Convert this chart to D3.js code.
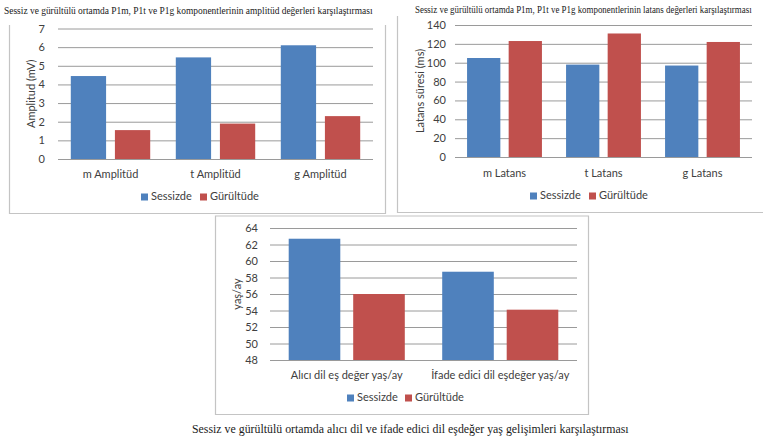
<!DOCTYPE html>
<html>
<head>
<meta charset="utf-8">
<script src="https://cdn.jsdelivr.net/npm/d3@7"></script>
<style>
  html, body { margin: 0; padding: 0; background: #ffffff; }
  svg { display: block; }
  .tick-label, .cat-label, .legend-label, .axis-title { font-family: Lato, "Open Sans", sans-serif; fill: #404040; }
  .caption { font-family: "Liberation Serif", "DejaVu Serif", serif; fill: #1a1a1a; }
</style>
</head>
<body>
<svg id="chart" width="763" height="442"></svg>
<script>
// Series shared by all three panels
const series = ["Sessizde", "Gürültüde"];
const seriesColors = ["#4f81bd", "#c0504d"];

// Panel 1: P1 amplitude (mV)
const ampCategories = ["m Amplitüd", "t Amplitüd", "g Amplitüd"];
const ampSessizde = [4.45, 5.45, 6.1];
const ampGurultude = [1.55, 1.9, 2.3];
const ampTicks = [0, 1, 2, 3, 4, 5, 6, 7];

// Panel 2: P1 latency (ms)
const latCategories = ["m Latans", "t Latans", "g Latans"];
const latSessizde = [105, 98, 97];
const latGurultude = [123, 131, 122];
const latTicks = [0, 20, 40, 60, 80, 100, 120, 140];

// Panel 3: language age equivalents (yaş/ay)
const dilCategories = ["Alıcı dil eş değer yaş/ay", "İfade edici dil eşdeğer yaş/ay"];
const dilSessizde = [62.7, 58.7];
const dilGurultude = [56.0, 54.1];
const dilTicks = [48, 50, 52, 54, 56, 58, 60, 62, 64];

// Titles
const ampTitle = "Sessiz ve gürültülü ortamda P1m, P1t ve P1g komponentlerinin amplitüd değerleri karşılaştırması";
const latTitle = "Sessiz ve gürültülü ortamda P1m, P1t ve P1g komponentlerinin latans değerleri karşılaştırması";
const dilCaption = "Sessiz ve gürültülü ortamda alıcı dil ve ifade edici dil eşdeğer yaş gelişimleri karşılaştırması";

const svg = d3.select("#chart");

function drawPanel(cfg) {
  const g = svg.append("g");

  // frame (left, bottom, right edges; closed box when a top is given)
  const f = cfg.frame;
  const framePath = f.top != null
    ? `M${f.x0},${f.top}H${f.x1}V${f.y1}H${f.x0}Z`
    : `M${f.x0},${f.y0}V${f.y1}H${f.x1}V${f.y0}`;
  g.append("path").attr("d", framePath)
    .attr("fill", "none").attr("stroke", "#c4c4c4").attr("stroke-width", 1.2);

  const y = d3.scaleLinear()
    .domain([cfg.ticks[0], cfg.ticks[cfg.ticks.length - 1]])
    .range([cfg.plot.bottom, cfg.plot.top]);
  const x0 = d3.scaleBand()
    .domain(cfg.categories)
    .range([cfg.plot.left, cfg.plot.right])
    .paddingInner(0).paddingOuter(0);
  const x1 = d3.scaleBand()
    .domain(series)
    .range([0, x0.bandwidth()])
    .paddingInner(0.2).paddingOuter(0.29);

  // gridlines + y tick labels
  const yAxis = d3.axisLeft(y).tickValues(cfg.ticks).tickFormat(d3.format("d"))
    .tickSize(-(cfg.plot.right - cfg.plot.left)).tickPadding(cfg.labelGap);
  const ya = g.append("g").attr("transform", `translate(${cfg.plot.left},0)`).call(yAxis);
  ya.select(".domain").remove();
  ya.selectAll(".tick line").attr("stroke", "#9a9a9a").attr("stroke-width", 1);
  ya.selectAll(".tick text").attr("class", "tick-label")
    .attr("font-size", 11).attr("fill", "#404040");

  // bars
  const rows = cfg.categories.map((c, i) => ({ cat: c, values: [cfg.values[0][i], cfg.values[1][i]] }));
  const grp = g.selectAll(".grp").data(rows).enter().append("g")
    .attr("transform", d => `translate(${x0(d.cat)},0)`);
  grp.selectAll("rect").data(d => d.values.map((v, k) => ({ s: series[k], v, k })))
    .enter().append("rect")
    .attr("x", d => x1(d.s))
    .attr("width", x1.bandwidth())
    .attr("y", d => y(d.v))
    .attr("height", d => y.range()[0] - y(d.v))
    .attr("fill", d => seriesColors[d.k]);

  // category labels
  const xAxis = d3.axisBottom(x0).tickSize(0).tickPadding(cfg.catGap);
  const xa = g.append("g").attr("transform", `translate(0,${cfg.plot.bottom})`).call(xAxis);
  xa.select(".domain").remove();
  xa.selectAll(".tick text").attr("class", "cat-label")
    .attr("font-size", 11).attr("fill", "#404040");

  // y axis title
  g.append("text").attr("class", "axis-title")
    .attr("transform", `translate(${cfg.yTitleX},${(cfg.plot.top + cfg.plot.bottom) / 2}) rotate(-90)`)
    .attr("text-anchor", "middle").attr("dominant-baseline", "middle")
    .attr("font-size", 11).text(cfg.yTitle);

  // legend
  const lg = g.append("g");
  series.forEach((s, k) => {
    lg.append("rect").attr("x", cfg.legend.x[k]).attr("y", cfg.legend.y - 3.5)
      .attr("width", 7).attr("height", 7).attr("fill", seriesColors[k]);
    lg.append("text").attr("class", "legend-label")
      .attr("x", cfg.legend.x[k] + 10).attr("y", cfg.legend.y)
      .attr("dominant-baseline", "middle").attr("font-size", 11).text(s);
  });

  // serif title / caption, condensed horizontally to its target width
  if (cfg.title) {
    const t = g.append("text").attr("class", "caption")
      .attr("font-size", cfg.title.size)
      .text(cfg.title.text);
    const natural = t.node().getComputedTextLength();
    const sx = cfg.title.w / natural;
    t.attr("transform", `translate(${cfg.title.x},${cfg.title.y}) scale(${sx},1)`);
  }
}

drawPanel({
  categories: ampCategories, values: [ampSessizde, ampGurultude], ticks: ampTicks,
  frame: { x0: 9.5, y0: 25, x1: 385.5, y1: 213.5 },
  plot: { left: 58, right: 373, top: 28.5, bottom: 159 },
  labelGap: 13, catGap: 11, yTitleX: 32, yTitle: "Amplitud (mV)",
  legend: { x: [141, 200], y: 197 },
  title: { text: ampTitle, x: 4, y: 14, size: 10.5, w: 369 }
});

drawPanel({
  categories: latCategories, values: [latSessizde, latGurultude], ticks: latTicks,
  frame: { x0: 397.5, y0: 16, x1: 768, y1: 212.5 },
  plot: { left: 455, right: 752, top: 25, bottom: 157 },
  labelGap: 9, catGap: 12, yTitleX: 421, yTitle: "Latans süresi (ms)",
  legend: { x: [530, 589], y: 196 },
  title: { text: latTitle, x: 415, y: 13, size: 10, w: 337 }
});

drawPanel({
  categories: dilCategories, values: [dilSessizde, dilGurultude], ticks: dilTicks,
  frame: { x0: 215.5, x1: 588.5, top: 216, y1: 414.5 },
  plot: { left: 270, right: 577, top: 228, bottom: 360 },
  labelGap: 12, catGap: 11, yTitleX: 238, yTitle: "yaş/ay",
  legend: { x: [347, 405], y: 398 },
  title: { text: dilCaption, x: 192, y: 433, size: 11.5, w: 437 }
});
</script>
</body>
</html>
